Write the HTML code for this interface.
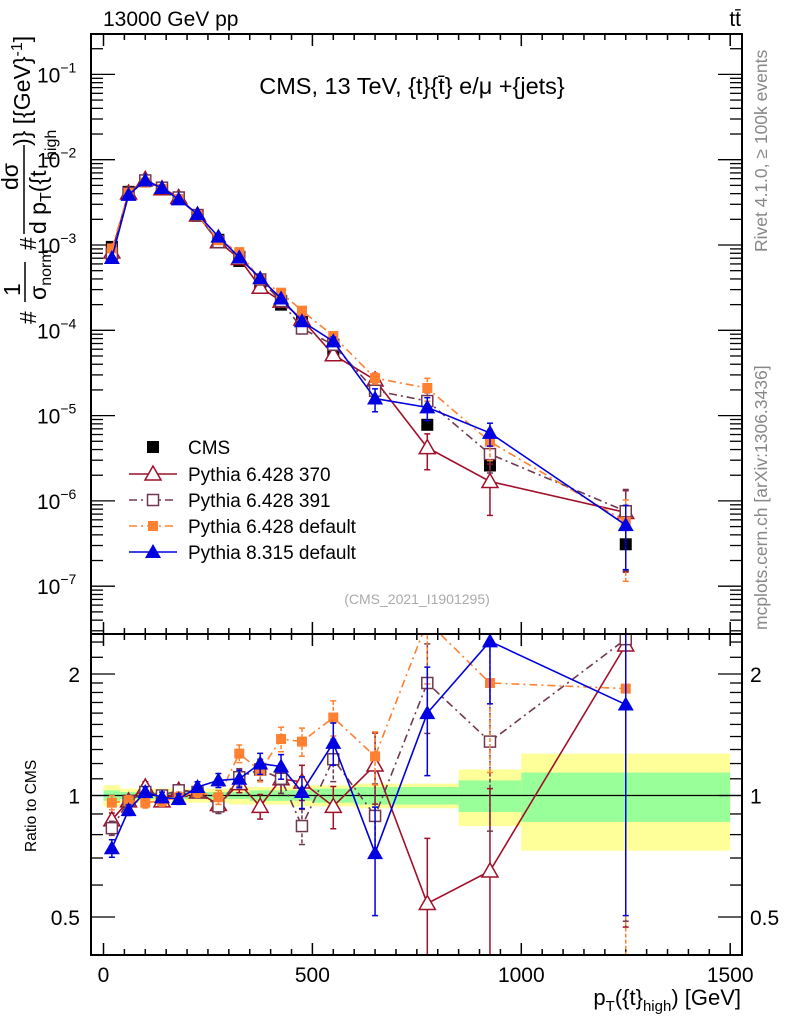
<!DOCTYPE html>
<html><head><meta charset="utf-8"><style>
body{margin:0;background:#fff;}
svg{display:block;font-family:"Liberation Sans",sans-serif;}
</style></head><body>
<svg id="chart" width="786" height="1024" viewBox="0 0 786 1024" xmlns="http://www.w3.org/2000/svg">
<g id="bands"></g>
<g id="ticks"></g>
<g id="series"></g>
<rect x="91" y="34" width="651" height="600" fill="none" stroke="#000" stroke-width="2"/>
<rect x="91" y="634" width="651" height="321" fill="none" stroke="#000" stroke-width="2"/>
<text x="103" y="26" font-size="21">13000 GeV pp</text>
<text x="741" y="26" font-size="21" text-anchor="end">tt̄</text>
<text x="412" y="94" font-size="23.5" text-anchor="middle">CMS, 13 TeV, {t}{t̄} e/μ +{jets}</text>
<text x="417" y="604" font-size="14" fill="#aaa" text-anchor="middle">(CMS_2021_I1901295)</text>
<text transform="translate(767,252) rotate(-90)" font-size="17.5" fill="#888">Rivet 4.1.0, ≥ 100k events</text>
<text transform="translate(767,630) rotate(-90)" font-size="17.5" fill="#888">mcplots.cern.ch [arXiv:1306.3436]</text>
<g font-size="23">
<text transform="translate(36,324) rotate(-90)">#</text>
<text transform="translate(20,296) rotate(-90)">1</text>
<line x1="25" y1="302" x2="25" y2="262" stroke="#000" stroke-width="1.5"/>
<text transform="translate(46,300) rotate(-90)">σ<tspan font-size="16" dy="5">norm</tspan></text>
<text transform="translate(36,250) rotate(-90)">#</text>
<text transform="translate(18,190) rotate(-90)">dσ</text>
<line x1="24" y1="234" x2="24" y2="145" stroke="#000" stroke-width="1.5"/>
<text transform="translate(46,234) rotate(-90)">d p<tspan font-size="16" dy="5">T</tspan><tspan dy="-5">({t</tspan></text>
<text transform="translate(56,160) rotate(-90)" font-size="16">high</text>
<text transform="translate(30,146) rotate(-90)">)} [{GeV}<tspan font-size="16" dy="-8">-1</tspan><tspan dy="8">]</tspan></text>
</g>
<text transform="translate(36,852) rotate(-90)" font-size="15.5">Ratio to CMS</text>
<text x="741" y="1005" font-size="22" text-anchor="end">p<tspan font-size="15" dy="6">T</tspan><tspan dy="-6">({t}</tspan><tspan font-size="15" dy="6">high</tspan><tspan dy="-6">) [GeV]</tspan></text>
<g id="legend"></g>
</svg>
<script>
const binEdges=[0,40,80,120,160,200,250,300,350,400,450,500,600,700,850,1000,1500];
const xCenters=[20,60,100,140,180,225,275,325,375,425,475,550,650,775,925,1250];
const cmsValues=[9.5e-4,4.2e-3,5.6e-3,4.7e-3,3.5e-3,2.2e-3,1.15e-3,6.5e-4,3.4e-4,2.0e-4,1.25e-4,5.5e-5,2.2e-5,7.8e-6,2.6e-6,3.1e-7];
const cmsRelErr=[0.03,0.02,0.02,0.02,0.02,0.02,0.02,0.03,0.03,0.03,0.04,0.04,0.05,0.07,0.1,0.15];
const bandInner=[0.03,0.02,0.02,0.02,0.02,0.02,0.02,0.02,0.03,0.03,0.03,0.04,0.05,0.05,0.09,0.14];
const bandOuter=[0.06,0.04,0.04,0.04,0.04,0.04,0.04,0.05,0.05,0.05,0.06,0.06,0.07,0.07,0.16,0.27];
const ratioP370=[0.87,0.97,1.05,0.97,1.03,1.02,0.95,1.07,0.94,1.10,1.08,0.94,1.19,0.54,0.65,2.36];
const errP370=[0.04,0.03,0.03,0.03,0.03,0.03,0.04,0.05,0.07,0.08,0.1,0.12,0.2,0.45,0.6,0.8];
const ratioP391=[0.83,0.97,1.02,1.0,1.03,1.02,0.94,1.11,1.16,1.10,0.84,1.23,0.89,1.90,1.36,2.44];
const errP391=[0.04,0.03,0.03,0.03,0.03,0.03,0.04,0.05,0.06,0.08,0.1,0.12,0.2,0.25,0.4,0.8];
const ratioP6def=[0.96,0.97,0.96,0.97,0.99,1.02,0.99,1.27,1.15,1.38,1.36,1.56,1.25,2.7,1.90,1.84];
const errP6def=[0.04,0.03,0.03,0.03,0.03,0.03,0.04,0.05,0.06,0.07,0.08,0.1,0.15,0.3,0.4,0.8];
const ratioP8=[0.74,0.92,1.02,0.99,0.98,1.05,1.09,1.10,1.20,1.18,1.02,1.35,0.72,1.60,2.41,1.68];
const errP8=[0.05,0.03,0.03,0.03,0.03,0.03,0.04,0.05,0.06,0.07,0.09,0.12,0.3,0.3,0.3,0.7];
const xTickLabels=["0","500","1000","1500"];
const mainTickLabels=["−1","−2","−3","−4","−5","−6","−7"];
const ratioTickLabels=["2","1","0.5"];

const NS="http://www.w3.org/2000/svg";
const X0=91,X1=742,MT=34,MB=634,RB=955;
const xs=v=>103.5+v*0.4178;
const ym=v=>245-85.3*(Math.log10(v)+3);
const yr=r=>795.5-121.5*Math.log2(r);
function mk(tag,attrs,parent){const e=document.createElementNS(NS,tag);for(const k in attrs)e.setAttribute(k,attrs[k]);parent.appendChild(e);return e;}
const bands=document.getElementById('bands'),ticks=document.getElementById('ticks'),ser=document.getElementById('series'),leg=document.getElementById('legend');

for(let i=0;i<xCenters.length;i++){
 const xa=xs(binEdges[i]),xb=xs(binEdges[i+1]);
 const o=mk('rect',{x:xa,y:yr(1+bandOuter[i]),width:xb-xa,height:yr(1-bandOuter[i])-yr(1+bandOuter[i]),fill:'#ffff99'},bands);
 
 
 const n=mk('rect',{x:xa,y:yr(1+bandInner[i]),width:xb-xa,height:yr(1-bandInner[i])-yr(1+bandInner[i]),fill:'#99ff99'},bands);
 
 
}
mk('line',{x1:X0,x2:X1,y1:yr(1),y2:yr(1),stroke:'#000','stroke-width':1.2},bands);

for(let v=0;v<=1500;v+=50){
 const x=xs(v),maj=v%500===0,L=maj?12:6;
 [[MT,1],[MB,-1],[MB,1],[RB,-1]].forEach(([y,d])=>mk('line',{x1:x,x2:x,y1:y,y2:y+d*L,stroke:'#000','stroke-width':1.5},ticks));
}
xTickLabels.forEach((t,i)=>{const e=mk('text',{x:xs(i*500),y:982,'font-size':21,'text-anchor':'middle'},ticks);e.textContent=t;
 
 });
for(let d=-8;d<=0;d++){for(let m=1;m<10;m++){const v=m*Math.pow(10,d);const y=ym(v);if(y<MT||y>MB)continue;const L=m===1?24:12;
 mk('line',{x1:X0,x2:X0+L,y1:y,y2:y,stroke:'#000','stroke-width':1.3},ticks);mk('line',{x1:X1,x2:X1-L,y1:y,y2:y,stroke:'#000','stroke-width':1.3},ticks);}}
mainTickLabels.forEach((t,i)=>{const y=ym(Math.pow(10,-(i+1)));const e=mk('text',{x:37,y:y+8,'font-size':21},ticks);e.innerHTML='10<tspan font-size="14" dy="-10">'+t+'</tspan>';
 
 });
[0.4,0.5,0.6,0.7,0.8,0.9,1,1.1,1.2,1.3,1.4,1.5,1.6,1.7,1.8,1.9,2,2.2,2.4].forEach(r=>{const y=yr(r);if(y<MT+600||y>RB)return;const maj=(r===0.5||r===1||r===2);const L=maj?24:12;
 mk('line',{x1:X0,x2:X0+L,y1:y,y2:y,stroke:'#000','stroke-width':1.3},ticks);mk('line',{x1:X1,x2:X1-L,y1:y,y2:y,stroke:'#000','stroke-width':1.3},ticks);});
ratioTickLabels.forEach(t=>{const y=yr(parseFloat(t))+8;
 const a=mk('text',{x:80,y:y,'font-size':21,'text-anchor':'end'},ticks);a.textContent=t;
 
 
 const b=mk('text',{x:750,y:y,'font-size':21},ticks);b.textContent=t;
 
 });

function marker(shape,x,y,col,g,s){
 s=s||7;
 if(shape==='sq')return mk('rect',{x:x-s+1,y:y-s+1,width:2*s-2,height:2*s-2,fill:col},g);
 if(shape==='osq')return mk('rect',{x:x-s+1.5,y:y-s+1.5,width:2*s-3,height:2*s-3,fill:'#fff',stroke:col,'stroke-width':1.5},g);
 if(shape==='sqs')return mk('rect',{x:x-5,y:y-5,width:10,height:10,fill:col},g);
 if(shape==='otri')return mk('polygon',{points:`${x},${y-8} ${x-8},${y+6} ${x+8},${y+6}`,fill:'#fff',stroke:col,'stroke-width':1.5},g);
 if(shape==='tri')return mk('polygon',{points:`${x},${y-8} ${x-8},${y+6} ${x+8},${y+6}`,fill:col},g);
}
const clipR=mk('clipPath',{id:'cr'},document.getElementById('chart'));mk('rect',{x:X0,y:634,width:X1-X0,height:RB-634},clipR);
const clipM=mk('clipPath',{id:'cm'},document.getElementById('chart'));mk('rect',{x:X0,y:MT,width:X1-X0,height:MB-MT},clipM);

const seriesDefs=[
 {name:'pythia-6428-370',label:'Pythia 6.428 370',ratio:ratioP370,err:errP370,col:'#a0102a',dash:'',shape:'otri'},
 {name:'pythia-6428-391',label:'Pythia 6.428 391',ratio:ratioP391,err:errP391,col:'#703850',dash:'8,4,2,4',shape:'osq'},
 {name:'pythia-6428-default',label:'Pythia 6.428 default',ratio:ratioP6def,err:errP6def,col:'#ff8030',dash:'8,4,2,4',shape:'sqs'},
 {name:'pythia-8315-default',label:'Pythia 8.315 default',ratio:ratioP8,err:errP8,col:'#0000e0',dash:'',shape:'tri'}
];
const gc=mk('g',{},ser);


cmsValues.forEach((v,i)=>{const x=xs(xCenters[i]);
 mk('line',{x1:x,x2:x,y1:ym(v*(1+cmsRelErr[i])),y2:ym(v*(1-cmsRelErr[i])),stroke:'#000','stroke-width':1.3},gc);
 const m=marker('sq',x,ym(v),'#000',gc);
 
 });
seriesDefs.forEach(s=>{
 ['main','ratio'].forEach(p=>{
  const g=mk('g',{'clip-path':p==='main'?'url(#cm)':'url(#cr)'},ser);
  
  
  const vals=s.ratio.map((r,i)=>p==='main'?cmsValues[i]*r:r);
  const Y=p==='main'?ym:yr;
  const pts=vals.map((v,i)=>xs(xCenters[i])+','+Y(v)).join(' ');
  mk('polyline',{points:pts,fill:'none',stroke:s.col,'stroke-width':1.6,'stroke-dasharray':s.dash},g);
  vals.forEach((v,i)=>{const x=xs(xCenters[i]);const e=s.err[i];
   const ya=Y(v*(1+e)),yb=Y(Math.max(v*(1-e),1e-9));
   mk('line',{x1:x,x2:x,y1:ya,y2:Math.min(yb,1000),stroke:s.col,'stroke-width':1.5,'stroke-dasharray':s.dash?'4,2':''},g);
   mk('line',{x1:x-3,x2:x+3,y1:ya,y2:ya,stroke:s.col,'stroke-width':1.5},g);
   mk('line',{x1:x-3,x2:x+3,y1:yb,y2:yb,stroke:s.col,'stroke-width':1.5},g);
   const m=marker(s.shape,x,Y(v),s.col,g);
   
   
  });
 });
});
const ly=[447,474,500,526,552];
const lc=mk('g',{},leg);


marker('sq',153,ly[0],'#000',lc,7);
const t0=mk('text',{x:188,y:ly[0]+7,'font-size':19},lc);t0.textContent='CMS';
seriesDefs.forEach((s,i)=>{const y=ly[i+1];const g=mk('g',{},leg);
 
 
 mk('line',{x1:129,x2:177,y1:y,y2:y,stroke:s.col,'stroke-width':1.6,'stroke-dasharray':s.dash},g);
 marker(s.shape,153,y,s.col,g,7);
 const t=mk('text',{x:188,y:y+7,'font-size':19},g);t.textContent=s.label;});
</script>
</body></html>
